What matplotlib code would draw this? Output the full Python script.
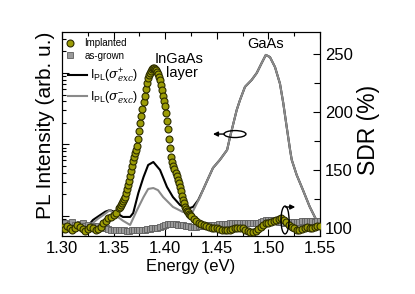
import matplotlib
matplotlib.use("Agg")
import matplotlib.pyplot as plt
from matplotlib.patches import Ellipse
from matplotlib.lines import Line2D
from matplotlib.ticker import MultipleLocator, NullFormatter

plt.rcParams['font.family'] = ['Liberation Sans', 'DejaVu Sans']
plt.rcParams['mathtext.fontset'] = 'custom'
plt.rcParams['mathtext.rm'] = 'Liberation Sans'
plt.rcParams['mathtext.it'] = 'DejaVu Serif:italic'
plt.rcParams['mathtext.cal'] = 'DejaVu Serif:italic'

# ---------------- data ----------------
# SDR (%) of the implanted sample (right axis)
energy_implanted = [1.3000, 1.3025, 1.3050, 1.3075, 1.3100, 1.3125, 1.3150, 1.3175, 1.3200, 1.3225,
                    1.3250, 1.3275, 1.3300, 1.3325, 1.3350, 1.3375, 1.3400, 1.3425, 1.3450, 1.3475,
                    1.3500, 1.3525,
                    1.355, 1.356, 1.357, 1.358, 1.359, 1.360, 1.361, 1.362, 1.363, 1.364,
                    1.365, 1.366, 1.367, 1.368, 1.369, 1.370, 1.371, 1.372, 1.373, 1.374,
                    1.375, 1.376, 1.377, 1.378, 1.379, 1.380, 1.381, 1.382, 1.383, 1.384,
                    1.385, 1.386, 1.387, 1.388, 1.389, 1.390, 1.391, 1.392, 1.393, 1.394,
                    1.395, 1.396, 1.397, 1.398, 1.399, 1.400, 1.401, 1.402, 1.403, 1.404,
                    1.405, 1.406, 1.407, 1.408, 1.409, 1.410, 1.411, 1.412, 1.413, 1.414,
                    1.415, 1.416, 1.417, 1.418, 1.419, 1.420, 1.421, 1.422, 1.423, 1.424,
                    1.425,
                    1.4275, 1.4300, 1.4325, 1.4350, 1.4375, 1.4400, 1.4425, 1.4450, 1.4475,
                    1.4500, 1.4525, 1.4550, 1.4575, 1.4600, 1.4625, 1.4650, 1.4675, 1.4700, 1.4725,
                    1.4750, 1.4775, 1.4800, 1.4825, 1.4850, 1.4875, 1.4900, 1.4925, 1.4950, 1.4975,
                    1.5000, 1.5025, 1.5050, 1.5075, 1.5100, 1.5125, 1.5150, 1.5175, 1.5200, 1.5225,
                    1.5250, 1.5275, 1.5300, 1.5325, 1.5350, 1.5375, 1.5400, 1.5425, 1.5450, 1.5475,
                    1.5500]
sdr_implanted = [101, 99, 102, 100, 98, 100, 103, 101, 99, 97,
                 99, 101, 100, 98, 99, 101, 104, 106, 108.6, 109.5,
                 111, 113,
                 117, 118.5, 120, 121.5, 123, 125, 127, 130, 133.5, 137,
                 140.5, 144.5, 149, 153.5, 158, 161.5, 164.5, 167.5, 171, 177,
                 184, 190.5, 196.5, 202.5, 208.5, 214, 219.5, 225, 229, 231.5,
                 233.5, 235.5, 237, 238, 238, 237.5, 236.5, 234.5, 232.5, 230.5,
                 228, 223.5, 219, 214, 209.5, 205, 199, 192, 185, 177,
                 169, 161, 157, 153.5, 150.5, 147.5, 144.5, 141.5, 138.5, 135,
                 131.5, 128, 124.5, 121.5, 118.5, 116.5, 115, 113.5, 112, 111,
                 110,
                 108, 106, 104, 103.4, 102.6, 101.7, 100.9, 100.4, 100,
                 99.6, 99.1, 98.3, 98.3, 98.3, 98.7, 99.1, 99.6, 100, 100,
                 99.6, 98.7, 97.4, 96.6, 96.6, 97.4, 99.1, 100.9, 102.6, 103.9,
                 104.7, 105.2, 106, 106.9, 107.8, 108.6, 107.3, 105.2, 103, 100.9,
                 99.6, 98.7, 98.3, 99.1, 100.4, 100.9, 100.4, 100, 100.9, 101.7,
                 101.7]

# SDR (%) of the as-grown sample (right axis)
energy_asgrown = [1.3000, 1.3025, 1.3050, 1.3075, 1.3100, 1.3125, 1.3150, 1.3175, 1.3200, 1.3225,
                  1.3250, 1.3275, 1.3300, 1.3325, 1.3350, 1.3375, 1.3400, 1.3425, 1.3450, 1.3475,
                  1.3500, 1.3525, 1.3550, 1.3575, 1.3600, 1.3625, 1.3650, 1.3675, 1.3700, 1.3725,
                  1.3750, 1.3775, 1.3800, 1.3825, 1.3850, 1.3875, 1.3900, 1.3925, 1.3950, 1.3975,
                  1.4000, 1.4025, 1.4050, 1.4075, 1.4100, 1.4125, 1.4150, 1.4175, 1.4200, 1.4225,
                  1.4250, 1.4275, 1.4300, 1.4325, 1.4350, 1.4375, 1.4400, 1.4425, 1.4450, 1.4475,
                  1.4500, 1.4525, 1.4550, 1.4575, 1.4600, 1.4625, 1.4650, 1.4675, 1.4700, 1.4725,
                  1.4750, 1.4775, 1.4800, 1.4825, 1.4850, 1.4875, 1.4900, 1.4925, 1.4950, 1.4975,
                  1.5000, 1.5025, 1.5050, 1.5075, 1.5100, 1.5125, 1.5150, 1.5175, 1.5200, 1.5225,
                  1.5250, 1.5275, 1.5300, 1.5325, 1.5350, 1.5375, 1.5400, 1.5425, 1.5450, 1.5475,
                  1.5500]
sdr_asgrown = [102.6, 104.3, 101.7, 103.4, 105.2, 102.6, 100.9, 103.4, 104.3, 101.7,
               102.6, 100.9, 101.7, 100.9, 101.7, 100.9, 100, 99.6, 99.1, 98.7,
               98.3, 98.3, 98.3, 98.3, 98.3, 97.8, 97.8, 98.3, 98.3, 98.7,
               98.7, 98.7, 98.7, 99.1, 99.1, 99.6, 99.6, 100, 100.9, 101.7,
               102.6, 103.4, 103.4, 103.4, 103.4, 103, 102.6, 102.2, 101.7, 101.3,
               100.9, 100.9, 100.9, 101.3, 101.3, 101.7, 102.2, 102.6, 102.6, 103,
               103, 103.4, 103.4, 103.4, 103.4, 103.9, 103.9, 104.3, 104.3, 104.7,
               104.7, 104.7, 104.7, 104.3, 104.3, 104.3, 104.7, 105.2, 106, 106.9,
               106.9, 106.9, 106.5, 106, 105.6, 105.2, 104.7, 104.7, 104.7, 105.2,
               105.2, 105.6, 105.6, 106, 106, 106, 106, 106, 105.6, 106,
               106]

# PL intensity (left axis, log, arb. u.)
energy_pl_sigma_plus = [1.300, 1.310, 1.320, 1.325, 1.330, 1.337, 1.342, 1.3465, 1.352, 1.359,
                        1.366, 1.369, 1.374, 1.379, 1.3835, 1.3885, 1.395, 1.4017, 1.4075, 1.4143,
                        1.421, 1.427, 1.432]
pl_sigma_plus = [0.62, 0.64, 0.68, 0.72, 0.88, 1.03, 1.15, 1.21, 1.12, 0.97,
                 0.97, 1.10, 2.10, 3.51, 5.17, 5.69, 4.40, 2.55, 1.84, 1.43,
                 1.25, 1.34, 1.67]

energy_pl_sigma_minus = [1.300, 1.310, 1.320, 1.325, 1.330, 1.335, 1.340, 1.3465, 1.352, 1.359,
                         1.366, 1.3727, 1.379, 1.3835, 1.3885, 1.393, 1.398, 1.4075, 1.417, 1.426,
                         1.4337]
pl_sigma_minus = [0.60, 0.62, 0.66, 0.70, 0.80, 0.92, 1.03, 1.21, 1.02, 0.86,
                  0.75, 1.21, 1.84, 2.39, 2.46, 2.30, 1.84, 1.34, 1.14, 1.10,
                  1.84]

# GaAs region (both polarisations coincide)
energy_pl_gaas = [1.4366, 1.441, 1.4463, 1.453, 1.460, 1.4628, 1.4693, 1.4725, 1.4773, 1.4838,
                  1.4887, 1.4935, 1.4975, 1.5015, 1.5064, 1.5112, 1.5144, 1.5177, 1.521, 1.5226,
                  1.5274, 1.533, 1.540, 1.548, 1.550]
pl_gaas = [2.31, 3.2, 4.7, 6.1, 8.4, 12.7, 30.4, 42, 64, 80,
           100, 138, 179, 167, 121, 71, 38, 17.7, 8.4, 6.1,
           3.75, 2.4, 1.35, 0.79, 0.70]

x_ticks = [1.30, 1.35, 1.40, 1.45, 1.50, 1.55]
sdr_ticks = [100, 150, 200, 250]

# ---------------- figure ----------------
fig = plt.figure(figsize=(4.15, 2.94), dpi=100)
ax = fig.add_axes([62/415, 1-236/294, (320-62)/415, (236-32)/294])
ax2 = ax.twinx()

grey_line = '#8a8a8a'
imp_face, imp_edge = '#9c9c06', '#2c2c00'
asg_face, asg_edge = '#9a9a9a', '#5e5e5e'

ax.plot(energy_pl_sigma_plus + energy_pl_gaas, pl_sigma_plus + pl_gaas,
        color='black', lw=1.5, zorder=2)
ax.plot(energy_pl_sigma_minus + energy_pl_gaas, pl_sigma_minus + pl_gaas,
        color=grey_line, lw=1.5, zorder=3)
ax.set_yscale('log')
ax.set_ylim(0.525, 374.5)
ax.set_xlim(1.30, 1.55)
ax.set_xticks(x_ticks)
ax.set_xticklabels([f'{v:.2f}' for v in x_ticks])
ax.xaxis.set_minor_locator(MultipleLocator(0.025))
ax.yaxis.set_minor_formatter(NullFormatter())
ax.tick_params(axis='y', which='both', labelleft=False, left=True, right=False,
               direction='in')
ax.tick_params(axis='x', which='both', top=True, bottom=True, direction='in',
               labelsize=12)
ax.tick_params(which='major', length=5, width=0.8)
ax.tick_params(which='minor', length=3, width=0.8)

ax2.plot(energy_asgrown, sdr_asgrown, ls='none', marker='s', ms=4,
         mfc=asg_face, mec=asg_edge, mew=0.6, zorder=2)
ax2.plot(energy_implanted, sdr_implanted, ls='none', marker='o', ms=5,
         mfc=imp_face, mec=imp_edge, mew=0.8, zorder=3)
ax2.set_ylim(93.1, 269.0)
ax2.set_yticks(sdr_ticks)
ax2.yaxis.set_minor_locator(MultipleLocator(25))
ax2.tick_params(axis='y', which='both', direction='in', labelsize=12)
ax2.tick_params(which='major', length=5, width=0.8)
ax2.tick_params(which='minor', length=4, width=0.8)

for a in (ax, ax2):
    for s in a.spines.values():
        s.set_linewidth(0.8)

ax.set_xlabel('Energy (eV)', fontsize=12, labelpad=2)
ax.set_ylabel('PL Intensity (arb. u.)', fontsize=15)
ax.yaxis.set_label_coords(-0.027, 0.544)
ax2.set_ylabel('SDR (%)', fontsize=16.5)
ax2.yaxis.set_label_coords(1.143, 0.52)

# annotations
ax2.text(1.4139, 245.7, 'InGaAs', ha='center', va='center', fontsize=10.5)
ax2.text(1.4163, 233.6, 'layer', ha='center', va='center', fontsize=10.5)
ax2.text(1.4972, 258.6, 'GaAs', ha='center', va='center', fontsize=10.5)

# rotation arrows
ax2.add_patch(Ellipse((1.4676, 181), 0.0213, 6.0, fill=False, ec='black', lw=1.0, zorder=5))
ax2.annotate('', xy=(1.4463, 181), xytext=(1.4573, 181),
             arrowprops=dict(arrowstyle='-|>', color='black', lw=1.0,
                             mutation_scale=7, shrinkA=0, shrinkB=0), zorder=5)
ax2.add_patch(Ellipse((1.5161, 106.9), 0.0078, 24, fill=False, ec='black', lw=1.0, zorder=5))
ax2.annotate('', xy=(1.5260, 118.1), xytext=(1.5165, 118.1),
             arrowprops=dict(arrowstyle='-|>', color='black', lw=1.0,
                             mutation_scale=7, shrinkA=0, shrinkB=0), zorder=5)

# legends
h_imp = Line2D([], [], ls='none', marker='o', ms=5, mfc=imp_face, mec=imp_edge, mew=0.8)
h_asg = Line2D([], [], ls='none', marker='s', ms=4, mfc=asg_face, mec=asg_edge, mew=0.6)
leg1 = ax2.legend([h_imp, h_asg], ['Implanted', 'as-grown'], loc='upper left',
                  bbox_to_anchor=(0.012, 0.97), frameon=False, fontsize=7,
                  handlelength=1.0, handletextpad=1.0, labelspacing=0.25,
                  borderpad=0, borderaxespad=0)
ax2.add_artist(leg1)
h_p = Line2D([], [], color='black', lw=1.5)
h_m = Line2D([], [], color=grey_line, lw=1.5)
leg2 = ax2.legend([h_p, h_m],
                  [r'$\mathregular{I_{PL}}(\sigma^{+}_{exc})$',
                   r'$\mathregular{I_{PL}}(\sigma^{-}_{exc})$'],
                  loc='upper left', bbox_to_anchor=(0.023, 0.83), frameon=False,
                  fontsize=9, handlelength=1.5, handletextpad=0.3, labelspacing=0.3,
                  borderpad=0, borderaxespad=0)

fig.savefig('out.png', dpi=100)
